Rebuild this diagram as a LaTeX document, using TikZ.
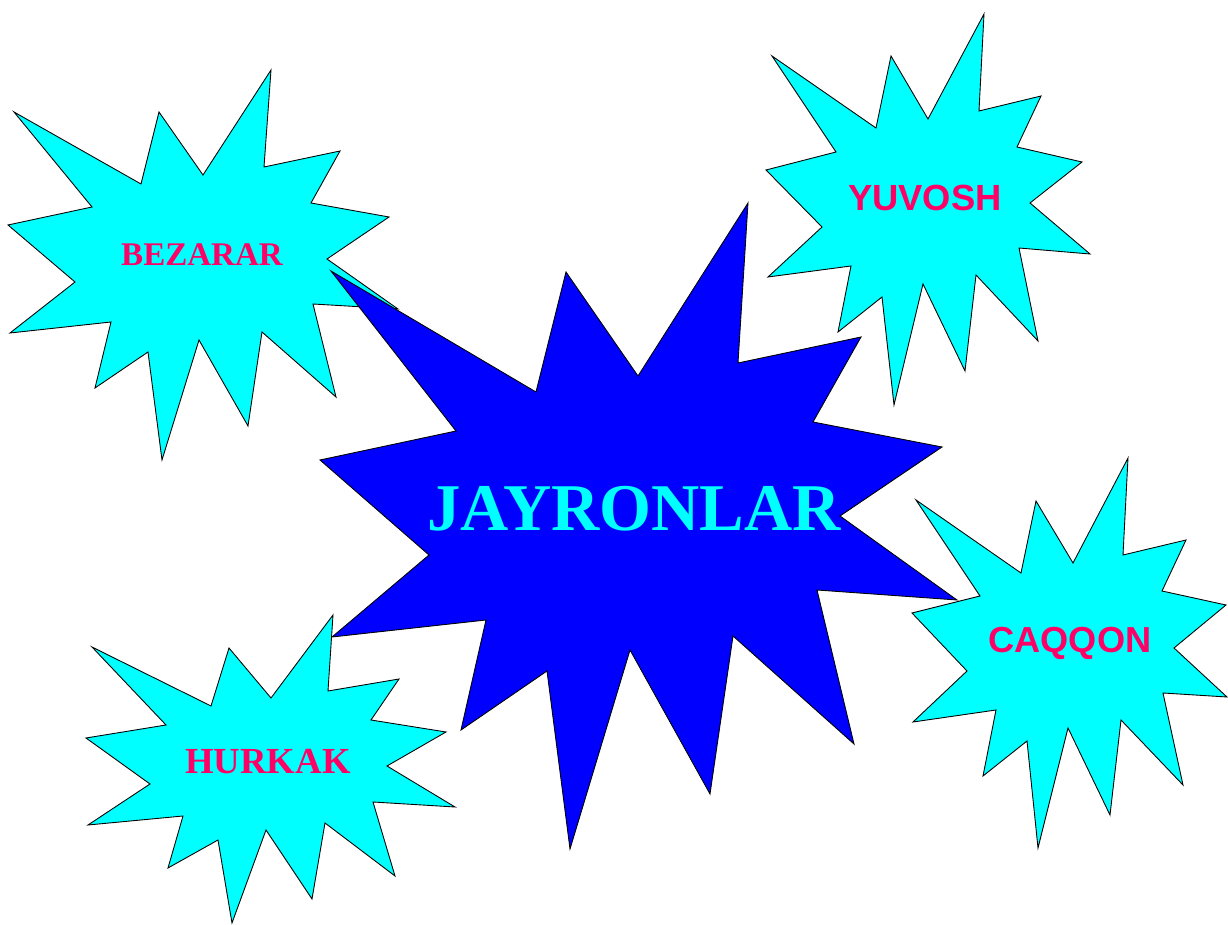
\documentclass[tikz,border=0pt]{standalone}
\usepackage{fontspec}
\setmainfont{Liberation Serif}
\newfontfamily\arialfont{Liberation Sans}
\usetikzlibrary{positioning}
\definecolor{burstcyan}{RGB}{0,255,255}
\definecolor{burstblue}{RGB}{0,0,255}
\definecolor{labelpink}{RGB}{255,0,102}
\tikzset{
    burst/.style ={draw=black, line width=0.5pt, line join=miter, fill=burstcyan},
    bigburst/.style ={burst, fill=burstblue},
    seriflabel/.style ={text=labelpink, font=\bfseries},
    sanslabel/.style ={text=labelpink, font=\arialfont\bfseries}
}

\begin{document}
\begin{tikzpicture}[x=0.02cm, y=-0.02cm]

  \useasboundingbox (0,0) rectangle (1228,925);

  % BEZARAR
  \filldraw[burst] (14,112) -- (141,184) -- (159,112) -- (203,175) -- (271,70) -- (264,167)
    -- (340,151) -- (311,203) -- (389,217) -- (327,259) -- (398,309) -- (313,304)
    -- (336,397) -- (262,332) -- (248,426) -- (199,340) -- (162,460) -- (148,352)
    -- (95,388) -- (111,322) -- (10,333) -- (75,282) -- (8,225) -- (92,207) -- cycle;
  \node[seriflabel, font=\fontsize{18.8}{20}\selectfont\bfseries] (bezarar) at (202,255) {BEZARAR};

  % YUVOSH
  \filldraw[burst] (772,56) -- (876,128) -- (891,56) -- (928,119) -- (984,14) -- (979,111)
    -- (1041,96) -- (1017,147) -- (1082,162) -- (1030,203) -- (1090,254) -- (1019,248)
    -- (1038,341) -- (976,275) -- (965,371) -- (923,284) -- (894,405) -- (882,297)
    -- (838,332) -- (851,266) -- (768,277) -- (822,227) -- (766,170) -- (836,152) -- cycle;
  \node[sanslabel, font=\arialfont\fontsize{20.7}{22}\selectfont\bfseries] (yuvosh) at (925,198) {YUVOSH};

  % JAYRONLAR
  \filldraw[bigburst] (331,271) -- (536,392) -- (566,272) -- (638,376) -- (748,203) -- (738,363)
    -- (861,337) -- (813,422) -- (942,447) -- (840,516) -- (957,600) -- (817,590)
    -- (854,744) -- (733,636) -- (710,794) -- (630,650) -- (570,849) -- (547,671)
    -- (461,730) -- (486,620) -- (332,637) -- (429,555) -- (320,460) -- (456,431) -- cycle;
  \node[text=burstcyan, font=\fontsize{38}{40}\selectfont\bfseries] (jayronlar) at (634,509) {JAYRONLAR};

  % HURKAK
  \filldraw[burst] (92,647) -- (211,706) -- (229,648) -- (271,698) -- (333,615) -- (328,691)
    -- (399,679) -- (371,720) -- (446,732) -- (387,766) -- (455,807) -- (373,802)
    -- (395,876) -- (325,823) -- (312,899) -- (266,830) -- (232,923) -- (218,840)
    -- (168,868) -- (183,816) -- (88,825) -- (150,784) -- (86,738) -- (166,725) -- cycle;
  \node[seriflabel, font=\fontsize{20.9}{22}\selectfont\bfseries] (hurkak) at (268,762) {HURKAK};

  % CAQQON
  \filldraw[burst] (916,500) -- (1021,573) -- (1036,501) -- (1073,563) -- (1128,458) -- (1123,555)
    -- (1186,540) -- (1162,591) -- (1226,605) -- (1174,648) -- (1227,697) -- (1163,693)
    -- (1183,785) -- (1121,720) -- (1110,815) -- (1068,728) -- (1038,848) -- (1027,741)
    -- (983,776) -- (996,710) -- (913,722) -- (967,671) -- (912,613) -- (980,596) -- cycle;
  \node[sanslabel, font=\arialfont\fontsize{20.6}{22}\selectfont\bfseries] (caqqon) at (1070,643) {CAQQON};

\end{tikzpicture}
\end{document}
